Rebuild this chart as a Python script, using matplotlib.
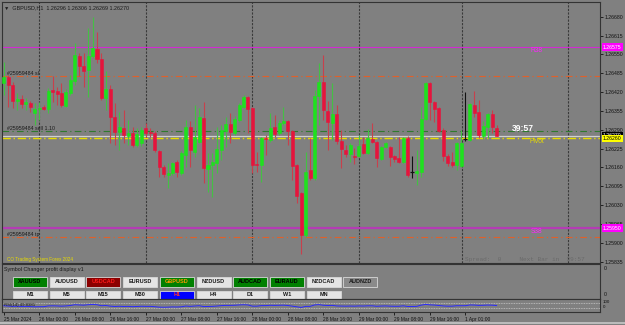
import matplotlib
matplotlib.use("Agg")
import matplotlib.pyplot as plt
from matplotlib.patches import Rectangle

plt.rcParams["font.family"] = ["Liberation Sans", "DejaVu Sans"]

W, H = 625, 325

# GBPUSD H1 candles, bar 0 = 25 Mar 16:00 ... bar 111 = 1 Apr 08:00
opens = [1.26452, 1.26472, 1.26445, 1.26389, 1.26396, 1.26379, 1.26383, 1.26348, 1.26362, 1.26369,
         1.26362, 1.26427, 1.26424, 1.26417, 1.26372, 1.26417, 1.26458, 1.26545, 1.26510, 1.26496,
         1.26545, 1.26569, 1.26534, 1.26400, 1.26431, 1.26334, 1.26283, 1.26296, 1.26269, 1.26279,
         1.26238, 1.26245, 1.26296, 1.26283, 1.26279, 1.26217, 1.26162, 1.26134, 1.26141, 1.26179,
         1.26141, 1.26203, 1.26300, 1.26214, 1.26248, 1.26331, 1.26155, 1.26169, 1.26176, 1.26220,
         1.26286, 1.26310, 1.26279, 1.26324, 1.26369, 1.26403, 1.26365, 1.26172, 1.26169, 1.26262,
         1.26255, 1.26300, 1.26279, 1.26314, 1.26320, 1.26286, 1.26169, 1.26072, 1.25927, 1.26151,
         1.26124, 1.26407, 1.26455, 1.26355, 1.26314, 1.26345, 1.26251, 1.26220, 1.26207, 1.26200,
         1.26200, 1.26241, 1.26210, 1.26258, 1.26248, 1.26189, 1.26231, 1.26231, 1.26200, 1.26193,
         1.26179, 1.26262, 1.26145, 1.26141, 1.26145, 1.26327, 1.26452, 1.26386, 1.26365, 1.26289,
         1.26200, 1.26179, 1.26169, 1.26165, 1.26258, 1.26255, 1.26376, 1.26352, 1.26269, 1.26300,
         1.26345, 1.26296]
highs = [1.26524, 1.26479, 1.26455, 1.26417, 1.26410, 1.26400, 1.26389, 1.26383, 1.26386, 1.26376,
         1.26434, 1.26476, 1.26438, 1.26452, 1.26431, 1.26479, 1.26590, 1.26555, 1.26555, 1.26641,
         1.26679, 1.26628, 1.26555, 1.26493, 1.26445, 1.26383, 1.26352, 1.26358, 1.26324, 1.26300,
         1.26296, 1.26300, 1.26314, 1.26296, 1.26286, 1.26220, 1.26169, 1.26176, 1.26179, 1.26186,
         1.26217, 1.26324, 1.26320, 1.26376, 1.26365, 1.26386, 1.26210, 1.26210, 1.26300, 1.26307,
         1.26334, 1.26348, 1.26338, 1.26383, 1.26410, 1.26407, 1.26369, 1.26214, 1.26265, 1.26272,
         1.26348, 1.26341, 1.26324, 1.26369, 1.26324, 1.26289, 1.26172, 1.26076, 1.26214, 1.26262,
         1.26427, 1.26521, 1.26548, 1.26389, 1.26452, 1.26376, 1.26289, 1.26238, 1.26245, 1.26227,
         1.26272, 1.26265, 1.26293, 1.26314, 1.26250, 1.26234, 1.26248, 1.26234, 1.26203, 1.26265,
         1.26265, 1.26269, 1.26200, 1.26220, 1.26369, 1.26455, 1.26455, 1.26389, 1.26369, 1.26296,
         1.26207, 1.26214, 1.26248, 1.26289, 1.26421, 1.26383, 1.26424, 1.26393, 1.26320, 1.26348,
         1.26358, 1.26306]
lows = [1.26410, 1.26369, 1.26365, 1.26358, 1.26365, 1.26358, 1.26352, 1.26307, 1.26324, 1.26358,
        1.26348, 1.26386, 1.26376, 1.26369, 1.26369, 1.26410, 1.26445, 1.26476, 1.26438, 1.26403,
        1.26538, 1.26521, 1.26393, 1.26358, 1.26245, 1.26238, 1.26220, 1.26245, 1.26238, 1.26231,
        1.26231, 1.26234, 1.26265, 1.26265, 1.26214, 1.26127, 1.26127, 1.26089, 1.26134, 1.26127,
        1.26134, 1.26162, 1.26162, 1.26196, 1.26245, 1.26107, 1.26076, 1.26058, 1.26141, 1.26186,
        1.26231, 1.26245, 1.26272, 1.26317, 1.26365, 1.26279, 1.26141, 1.26145, 1.26110, 1.26203,
        1.26248, 1.26265, 1.26272, 1.26307, 1.26238, 1.26117, 1.26038, 1.25862, 1.25920, 1.26117,
        1.26117, 1.26307, 1.26324, 1.26220, 1.26255, 1.26241, 1.26158, 1.26196, 1.26179, 1.26172,
        1.26196, 1.26207, 1.26207, 1.26245, 1.26162, 1.26186, 1.26227, 1.26165, 1.26179, 1.26176,
        1.26176, 1.26127, 1.26124, 1.26100, 1.26127, 1.26324, 1.26324, 1.26317, 1.26283, 1.26182,
        1.26165, 1.26162, 1.26151, 1.26162, 1.26251, 1.26251, 1.26334, 1.26262, 1.26258, 1.26262,
        1.26279, 1.26269]
closes = [1.26472, 1.26445, 1.26389, 1.26396, 1.26379, 1.26386, 1.26369, 1.26362, 1.26365, 1.26362,
          1.26424, 1.26421, 1.26414, 1.26376, 1.26421, 1.26462, 1.26548, 1.26510, 1.26493, 1.26545,
          1.26572, 1.26534, 1.26400, 1.26431, 1.26334, 1.26283, 1.26300, 1.26272, 1.26279, 1.26238,
          1.26276, 1.26289, 1.26279, 1.26279, 1.26220, 1.26162, 1.26138, 1.26141, 1.26176, 1.26145,
          1.26210, 1.26300, 1.26220, 1.26265, 1.26334, 1.26158, 1.26169, 1.26179, 1.26224, 1.26289,
          1.26310, 1.26283, 1.26327, 1.26376, 1.26403, 1.26362, 1.26169, 1.26169, 1.26262, 1.26258,
          1.26296, 1.26276, 1.26314, 1.26320, 1.26286, 1.26165, 1.26062, 1.25927, 1.26145, 1.26124,
          1.26407, 1.26455, 1.26358, 1.26317, 1.26345, 1.26251, 1.26224, 1.26207, 1.26238, 1.26196,
          1.26234, 1.26210, 1.26262, 1.26248, 1.26193, 1.26231, 1.26245, 1.26196, 1.26189, 1.26179,
          1.26262, 1.26134, 1.26145, 1.26148, 1.26327, 1.26452, 1.26386, 1.26362, 1.26286, 1.26200,
          1.26176, 1.26169, 1.26245, 1.26245, 1.26258, 1.26379, 1.26348, 1.26272, 1.26303, 1.26345,
          1.26300, 1.26270]

# RSI(14) sub window, one value per bar
rsi = [48, 45, 42, 43, 41, 42, 40, 38, 39, 39, 46, 47, 46, 44, 46, 50,
       57, 55, 53, 57, 60, 57, 48, 50, 44, 41, 43, 41, 42, 39, 41, 43,
       42, 42, 39, 35, 34, 35, 37, 36, 38, 45, 42, 45, 48, 40, 41, 42,
       45, 49, 51, 51, 52, 55, 57, 55, 44, 44, 49, 49, 52, 51, 52, 53,
       50, 44, 38, 32, 42, 42, 55, 58, 52, 50, 51, 46, 45, 44, 45, 44,
       46, 45, 47, 47, 43, 45, 46, 44, 43, 43, 47, 41, 41, 42, 53, 60,
       56, 54, 50, 46, 44, 44, 48, 48, 48, 55, 54, 51, 52, 54, 53, 50]

time_idx = [0, 8, 16, 24, 32, 40, 48, 56, 64, 72, 80, 88, 96, 104]
time_lbl = ["25 Mar 2024", "26 Mar 00:00", "26 Mar 08:00", "26 Mar 16:00", "27 Mar 00:00",
            "27 Mar 08:00", "27 Mar 16:00", "28 Mar 00:00", "28 Mar 08:00", "28 Mar 16:00",
            "29 Mar 00:00", "29 Mar 08:00", "29 Mar 16:00", "1 Apr 01:00"]
grid_idx = [8, 32, 56, 80, 103.2, 127.1]

price_ticks = [1.26680, 1.26615, 1.26550, 1.26485, 1.26420, 1.26355, 1.26290,
               1.26225, 1.26160, 1.26095, 1.26030, 1.25965, 1.25900, 1.25835]

r38, pivot, s38 = 1.26575, 1.26260, 1.25950
sl, order_price, tp = 1.26475, 1.26286, 1.25920
bid = 1.26270

symbols = ["XAUUSD", "AUDUSD", "USDCAD", "EURUSD", "GBPUSD",
           "NZDUSD", "AUDCAD", "EURAUD", "NZDCAD", "AUDNZD"]
periods = ["M1", "M5", "M15", "M30", "H1", "H4", "D1", "W1", "MN"]

BG = "#808080"
UP = "#1ee11e"
DN = "#e6143c"
FRAME = "#333333"
XMIN, XMAX = -0.4, 134.3
SMALL = 3.7  # axis label size


def pax(x0, y0, x1, y1):
    # axes placed in pixel coords of the 625x325 picture (y from top)
    a = fig.add_axes([x0 / W, 1 - y1 / H, (x1 - x0) / W, (y1 - y0) / H])
    a.set_facecolor(BG)
    for s in a.spines.values():
        s.set_color(FRAME)
        s.set_linewidth(0.8)
    return a


fig = plt.figure(figsize=(6.25, 3.25), dpi=100)
fig.patch.set_facecolor(BG)

# ---------------- main price window ----------------
ax = pax(2, 2, 600, 263)
ax.set_xlim(XMIN, XMAX)
ax.set_ylim(1.25830, 1.26731)
ax.set_xticks([])
ax.yaxis.tick_right()
ax.set_yticks(price_ticks)
ax.set_yticklabels(["%.5f" % p for p in price_ticks])
ax.tick_params(axis="y", length=2, width=0.6, pad=1, labelsize=SMALL, colors="#111111")

for g in grid_idx:
    ax.axvline(g, color="#3a3a3a", lw=0.8, ls=(0, (2, 1.2)), zorder=1)

# levels
ax.axhline(r38, color="#d22ad2", lw=0.8, zorder=2)
ax.axhline(s38, color="#b43cb4", lw=1.6, zorder=2)
ax.axhline(sl, color="#e0602a", lw=0.8, ls=(0, (6, 3, 1, 3)), zorder=2)
ax.axhline(tp, color="#e0602a", lw=0.8, ls=(0, (6, 3, 1, 3)), zorder=2)
ax.axhline(order_price, color="#2f7a2f", lw=0.8, ls=(0, (6, 3, 1, 3)), zorder=2)
ax.axhline(bid, color="#d0d0d0", lw=0.9, zorder=2)
ax.axhline(pivot, color="#e8dc00", lw=1.0, ls=(0, (6, 2, 1, 2)), zorder=2)

# candles
for i in range(len(opens)):
    o, h, l, c = opens[i], highs[i], lows[i], closes[i]
    if c > o:
        col, wick = UP, "#44c044"
    elif c < o:
        col, wick = DN, "#c8404c"
    else:
        col, wick = "#111111", "#111111"
    ax.vlines(i, l, h, color=wick, lw=0.8, zorder=3)
    if c == o:
        ax.hlines(c, i - 0.45, i + 0.45, color=col, lw=0.9, zorder=4)
    else:
        ax.bar(i, abs(c - o), bottom=min(o, c), width=0.68, color=col,
               edgecolor=col, linewidth=0.4, zorder=4)

# right side highlighted price labels
lab_kw = dict(transform=ax.get_yaxis_transform(), fontsize=SMALL, va="center", ha="left", zorder=6)
box = "square,pad=0.25"
ax.text(1.005, r38, "%.5f" % r38, color="#ffffff",
        bbox=dict(boxstyle=box, fc="#ff00ff", ec="none"), **lab_kw)
ax.text(1.005, bid, "%.5f" % bid, color="#ffffff",
        bbox=dict(boxstyle=box, fc="#000000", ec="none"), **lab_kw)
ax.text(1.005, pivot, "%.5f" % pivot, color="#000000",
        bbox=dict(boxstyle=box, fc="#ffff00", ec="none"), **lab_kw)
ax.text(1.005, s38, "%.5f" % s38, color="#ffffff",
        bbox=dict(boxstyle=box, fc="#ff00ff", ec="none"), **lab_kw)

# texts on the chart
tr = ax.transAxes
ax.text(0.004, 0.988, "\u25bc  GBPUSD,H1  1.26296 1.26306 1.26269 1.26270",
        transform=tr, fontsize=3.9, color="#1a1a1a", va="top", ha="left")
ytr = ax.get_yaxis_transform()
ax.text(0.008, sl, "#25959484 sl", fontsize=3.8, color="#1a1a1a", va="bottom", transform=ytr)
ax.text(0.008, order_price, "#25959484 sell 1.10", fontsize=3.8, color="#1a1a1a", va="bottom",
        transform=ytr)
ax.text(0.008, tp, "#25959484 tp", fontsize=3.8, color="#1a1a1a", va="bottom", transform=ytr)
ax.text(118.6, r38, "R38", fontsize=4.8, color="#ff22ff", va="top", ha="left")
ax.text(118.4, pivot, "Pivot", fontsize=4.8, color="#e8dc00", va="top", ha="left")
ax.text(118.6, s38, "S38", fontsize=4.8, color="#ff22ff", va="top", ha="left")
ax.text(114.4, 1.26296, "39:57", fontsize=6.2, color="#ffffff", fontweight="bold",
        va="center", ha="left")
ax.text(0.008, 0.004, "CO Trading System Forex 2024", transform=tr, fontsize=3.3,
        color="#e8dc00", va="bottom", ha="left")
ax.text(0.775, 0.002, "Spread:  0     Next Bar in  39:57", transform=tr, fontsize=4.4,
        color="#6a6a6a", family="Liberation Mono", va="bottom", ha="left")

# ---------------- symbol changer window ----------------
bx = pax(2, 264, 600, 299)
bx.set_xlim(0, 598)
bx.set_ylim(35, 0)
bx.set_xticks([])
bx.set_yticks([])
bx.text(2, 6, "Symbol Changer profit display v1", fontsize=3.9, color="#1a1a1a", va="center")
for lbl_y in (4, 31):
    bx.text(602, lbl_y, "0", fontsize=SMALL, color="#111111", va="center", clip_on=False)

sym_style = {"XAUUSD": ("#008000", "#000000"), "USDCAD": ("#8b0000", "#ff1a1a"),
             "GBPUSD": ("#008000", "#ff9900"), "AUDCAD": ("#008000", "#000000"),
             "EURAUD": ("#008000", "#000000"), "AUDNZD": ("#8a8a8a", "#1a1a1a")}
for k, s in enumerate(symbols):
    x0 = 11 + k * 36.7
    fc, tc = sym_style.get(s, ("#e4e4e4", "#1a1a1a"))
    bx.add_patch(Rectangle((x0, 12.5), 34, 10, fc=fc, ec="#d8d8d8", lw=0.6))
    bx.text(x0 + 17, 17.5, s, fontsize=4.0, color=tc, ha="center", va="center", fontweight="bold")
for k, s in enumerate(periods):
    x0 = 11 + k * 36.7
    fc, tc = ("#0000ff", "#ff3030") if s == "H1" else ("#e4e4e4", "#1a1a1a")
    bx.add_patch(Rectangle((x0, 26.5), 34, 8, fc=fc, ec="#d8d8d8", lw=0.6))
    bx.text(x0 + 17, 30.5, s, fontsize=4.0, color=tc, ha="center", va="center", fontweight="bold")

# ---------------- RSI window ----------------
rx = pax(2, 299, 600, 312)
rx.set_xlim(XMIN, XMAX)
rx.set_ylim(-10, 110)
rx.set_yticks([])
rx.axhline(70, color="#c8c8c8", lw=0.6, ls=(0, (1, 1)))
rx.axhline(30, color="#c8c8c8", lw=0.6, ls=(0, (1, 1)))
rx.plot(range(len(rsi)), rsi, color="#2828ff", lw=0.7)
rx.text(0.004, 0.55, "RSI(14) 49.8381", transform=rx.transAxes, fontsize=3.1,
        color="#1a1a1a", va="center")
rx.text(1.005, 0.8, "100", transform=rx.transAxes, fontsize=3.2, color="#111111", va="center")
rx.text(1.005, 0.35, "0", transform=rx.transAxes, fontsize=3.2, color="#111111", va="center")
rx.set_xticks(time_idx)
rx.set_xticklabels(time_lbl, ha="left")
rx.tick_params(axis="x", length=2, width=0.6, pad=1.5, labelsize=3.5, colors="#111111")

# light window border at the bottom
fig.add_artist(plt.Line2D([0, 1], [2 / H, 2 / H], color="#c8c8c8", lw=1.2))

fig.savefig("out.png", dpi=100, facecolor=BG)
